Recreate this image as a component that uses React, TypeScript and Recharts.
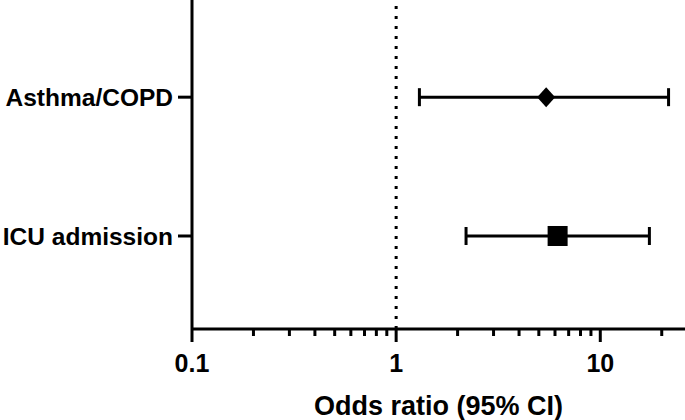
import { ScatterChart, Scatter, XAxis, YAxis, ErrorBar, ReferenceLine } from 'recharts'

const categories = ['Asthma/COPD', 'ICU admission']
const rowPos = [2, 1]
const oddsRatio = [5.43, 6.18]
const ciLower = [1.3, 2.2]
const ciUpper = [21.6, 17.4]

const xTicks = [0.1, 0.2, 0.3, 0.4, 0.5, 0.6, 0.7, 0.8, 0.9, 1, 2, 3, 4, 5, 6, 7, 8, 9, 10, 20]
const majorTicks = [0.1, 1, 10]

const font = '"Liberation Sans", Arial, sans-serif'

const rows = categories.map((name, i) => ({
  name,
  y: rowPos[i],
  x: oddsRatio[i],
  err: [oddsRatio[i] - ciLower[i], ciUpper[i] - oddsRatio[i]],
}))

const XTick = (props: any) => {
  const { x, y, payload } = props
  const v = payload.value
  const major = majorTicks.includes(v)
  return (
    <g>
      <line x1={x} x2={x} y1={y} y2={y + (major ? 13 : 7)} stroke="#000" strokeWidth={3} />
      {major && (
        <text x={x} y={y + 43} textAnchor="middle" fill="#000" fontSize={25} fontWeight="bold" fontFamily={font}>
          {v}
        </text>
      )}
    </g>
  )
}

const Diamond = (props: any) => {
  const { cx, cy } = props
  return <path d={`M${cx},${cy - 10} L${cx + 9},${cy} L${cx},${cy + 10} L${cx - 9},${cy} Z`} fill="#000" />
}

const Square = (props: any) => {
  const { cx, cy } = props
  return <rect x={cx - 10} y={cy - 10} width={20} height={20} fill="#000" />
}

export default function App() {
  return (
    <div style={{ position: 'absolute', left: 0, top: 0 }}>
      <ScatterChart width={685} height={420} margin={{ top: 0, right: 0, bottom: 0, left: 0 }}>
        <XAxis
          dataKey="x"
          type="number"
          scale="log"
          domain={[0.1, 26]}
          allowDataOverflow
          ticks={xTicks}
          interval={0}
          tick={<XTick />}
          tickSize={0}
          tickMargin={0}
          tickLine={false}
          axisLine={{ stroke: '#000', strokeWidth: 3 }}
          height={91}
          label={{
            value: 'Odds ratio (95% CI)',
            position: 'insideBottom',
            offset: 5,
            fill: '#000',
            fontSize: 27,
            fontWeight: 'bold',
            fontFamily: font,
          }}
        />
        <YAxis
          dataKey="y"
          type="number"
          domain={[0.33, 2.7]}
          allowDataOverflow
          ticks={rowPos}
          tickFormatter={(v: number) => categories[rowPos.indexOf(v)] ?? ''}
          width={192}
          tickSize={14}
          tickMargin={5}
          tickLine={{ stroke: '#000', strokeWidth: 3 }}
          axisLine={{ stroke: '#000', strokeWidth: 3 }}
          tick={{ fill: '#000', fontSize: 24.5, fontWeight: 'bold', fontFamily: font }}
        />
        <ReferenceLine x={1} stroke="#000" strokeWidth={3} strokeDasharray="3 7" />
        <Scatter data={[rows[0]]} shape={<Diamond />} isAnimationActive={false}>
          <ErrorBar dataKey="err" direction="x" width={9} stroke="#000" strokeWidth={3} isAnimationActive={false} />
        </Scatter>
        <Scatter data={[rows[1]]} shape={<Square />} isAnimationActive={false}>
          <ErrorBar dataKey="err" direction="x" width={9} stroke="#000" strokeWidth={3} isAnimationActive={false} />
        </Scatter>
      </ScatterChart>
    </div>
  )
}
